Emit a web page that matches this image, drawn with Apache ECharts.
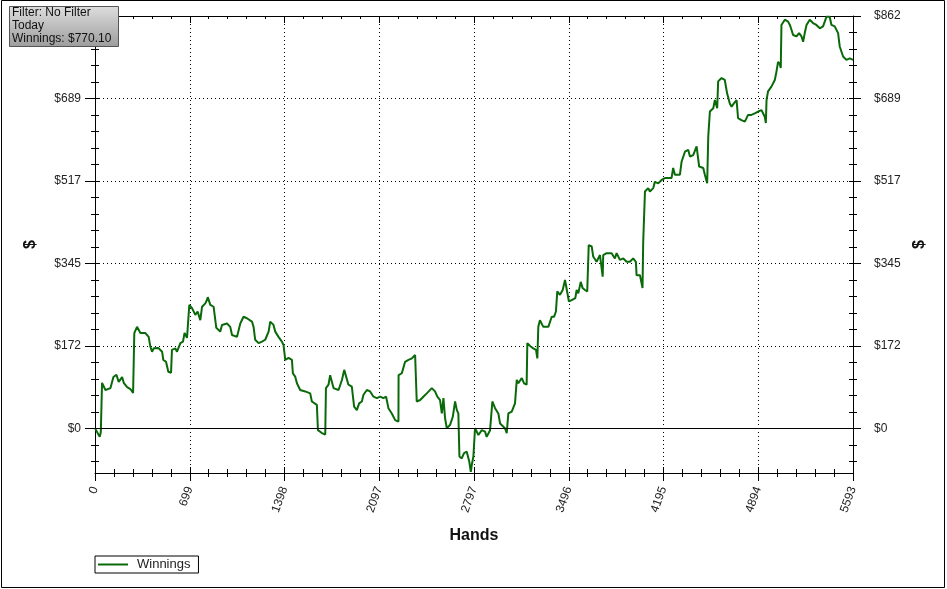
<!DOCTYPE html>
<html><head><meta charset="utf-8">
<script src="https://cdn.jsdelivr.net/npm/echarts@6/dist/echarts.min.js"></script>
<style>html,body{margin:0;padding:0;background:#fff}#c{width:947px;height:589px}</style>
</head><body><div id="c"></div>
<script>
const hands = [
0,3,35,43,52,77,114,136,158,175,200,
212,237,261,281,290,310,335,372,396,408,
421,433,467,495,504,524,541,561,568,593,
605,630,649,661,679,696,716,740,757,777,
790,814,826,832,851,875,895,924,937,974,
986,998,1011,1048,1072,1096,1121,1158,1170,1182,
1207,1232,1256,1281,1293,1317,1330,1354,1379,1391,
1404,1428,1453,1460,1477,1490,1514,1551,1588,1600,
1637,1645,1674,1699,1704,1723,1735,1748,1760,1797,
1822,1839,1851,1870,1895,1912,1932,1949,1969,1981,
2006,2030,2055,2080,2104,2128,2148,2165,2190,2215,
2239,2240,2264,2288,2313,2338,2362,2374,2399,2423,
2448,2485,2509,2526,2546,2559,2571,2583,2596,2620,
2640,2657,2670,2681,2689,2706,2723,2743,2762,2773,
2780,2792,2804,2829,2854,2878,2890,2915,2932,2952,
2976,2989,3025,3038,3050,3075,3099,3112,3124,3149,
3166,3185,3190,3210,3234,3254,3264,3271,3283,3308,
3345,3370,3387,3401,3411,3431,3451,3468,3480,3497,
3517,3544,3554,3566,3584,3598,3615,3632,3643,3665,
3676,3701,3726,3738,3746,3750,3775,3812,3836,3849,
3873,3898,3923,3947,3971,3991,3996,4021,4033,4040,
4045,4058,4082,4094,4119,4131,4156,4181,4205,4229,
4254,4266,4279,4316,4328,4353,4377,4390,4414,4426,
4439,4451,4458,4488,4500,4517,4525,4537,4562,4574,
4591,4598,4623,4647,4664,4684,4697,4714,4734,4745,
4770,4795,4807,4819,4844,4868,4893,4918,4930,4942,
4950,4955,4966,4991,5016,5028,5040,5053,5060,5065,
5090,5114,5127,5139,5151,5176,5195,5213,5225,5237,
5250,5274,5298,5323,5348,5372,5384,5397,5421,5434,
5458,5483,5495,5520,5544,5569,5593
];
const winnings = [
0,-4,-18,-8,95,80,84,107,112,97,107,
95,86,82,74,199,212,199,199,191,171,
160,167,168,160,143,139,118,116,164,167,
160,178,181,199,189,258,251,237,244,226,
254,261,268,274,258,254,210,202,216,219,
223,212,195,191,219,233,230,223,212,185,
178,181,185,202,223,216,202,191,181,174,
143,147,143,115,108,94,80,77,73,56,
49,-4,-10,-13,84,91,111,115,84,80,
101,122,118,91,87,45,38,52,56,70,
80,77,66,63,66,63,66,42,31,17,
14,111,115,139,143,146,153,56,59,66,
73,84,77,66,59,31,63,21,0,7,
24,56,38,31,-59,-63,-52,-49,-70,-91,
-77,-59,0,-14,-4,-7,-18,-4,56,42,
31,10,0,-10,31,35,52,101,94,105,
94,91,178,172,167,164,146,212,226,212,
212,233,233,244,286,279,289,310,314,265,
268,272,289,282,306,293,289,286,383,380,
359,348,362,359,317,362,366,366,355,366,
352,355,348,348,355,348,320,320,317,293,
390,495,502,495,502,515,512,519,523,523,
523,544,530,530,557,578,582,568,571,568,
589,589,547,544,530,512,610,662,669,686,
669,725,732,728,700,679,672,679,686,648,
644,641,644,655,655,658,662,665,658,651,
638,686,704,714,728,745,766,761,753,843,
854,850,843,833,822,819,826,819,808,826,
843,854,847,843,836,840,843,860,860,843,
840,826,798,777,770,773,770.1
];
const xTickLabels = ['0','699','1398','2097','2797','3496','4195','4894','5593'];
const yTickValues = [0,172.34,344.68,517.02,689.36,861.7];
const yTickLabels = ['$0','$172','$345','$517','$689','$862'];
const infoLines = ['Filter: No Filter','Today','Winnings: $770.10'];
const seriesName = 'Winnings';

const X_MAX = 5593, X_INT = X_MAX / 8;
const Y_MIN = -93.5, Y_MAX = 861.7;
const Y_MINOR = 34.468;
const yMinorValues = [];
for (let k = -2; k <= 25; k++) yMinorValues.push(+(k * Y_MINOR).toFixed(3));

const FONT = '"Liberation Sans", Arial, sans-serif';
const BLACK = '#000';
const LINE_COLOR = '#0a6a0a';
const DOT = {type:[1,3], color:'#000', width:1};

const data = hands.map((h, i) => [h, winnings[i]]);
const yFmt = v => { const i = yTickValues.findIndex(t => Math.abs(t - v) < 0.05); return i >= 0 ? yTickLabels[i] : ''; };

function xBase(extra) {
  return Object.assign({
    type:'value', min:0, max:X_MAX, interval:X_INT,
    axisLine:{show:false, onZero:false, lineStyle:{color:BLACK, width:1}},
    axisTick:{show:true, lineStyle:{color:BLACK, width:1}},
    minorTick:{show:true, splitNumber:5, lineStyle:{color:BLACK, width:1}},
    axisLabel:{show:false},
    splitLine:{show:false}, minorSplitLine:{show:false}
  }, extra);
}
function yBase(extra) {
  return Object.assign({
    type:'value', min:Y_MIN, max:Y_MAX,
    axisLine:{show:false, onZero:false, lineStyle:{color:BLACK, width:1}},
    axisLabel:{show:false},
    splitLine:{show:false}
  }, extra);
}

const chart = echarts.init(document.getElementById('c'), null, {renderer:'canvas'});
chart.setOption({
  animation:false,
  backgroundColor:'#fff',
  grid:{left:95, right:94, top:16, bottom:116, outerBoundsMode:'none', containLabel:false},
  xAxis:[
    xBase({position:'bottom',
      axisLine:{show:true, onZero:false, lineStyle:{color:BLACK, width:1}},
      axisTick:{show:true, inside:true, length:6, lineStyle:{color:BLACK}},
      minorTick:{show:true, splitNumber:5, length:4, lineStyle:{color:BLACK}},
      axisLabel:{show:true, rotate:70, margin:14, fontSize:12, color:'#222', fontFamily:FONT,
        formatter: v => xTickLabels[Math.round(v / X_INT)]},
      splitLine:{show:true, lineStyle:DOT},
      name:'Hands', nameLocation:'middle', nameGap:55,
      nameTextStyle:{fontSize:16, fontWeight:'bold', color:'#111', fontFamily:FONT}
    }),
    xBase({position:'bottom',
      axisTick:{show:true, inside:false, length:8, lineStyle:{color:BLACK}},
      minorTick:{show:true, splitNumber:5, length:4, lineStyle:{color:BLACK}}
    }),
    xBase({position:'top',
      axisLine:{show:true, onZero:false, lineStyle:{color:BLACK, width:1}},
      axisTick:{show:true, inside:true, length:7, lineStyle:{color:BLACK}},
      minorTick:{show:true, splitNumber:5, length:3, lineStyle:{color:BLACK}}
    })
  ],
  yAxis:[
    yBase({position:'left',
      axisLine:{show:true, onZero:false, lineStyle:{color:BLACK, width:1}},
      axisTick:{show:true, inside:true, length:4, customValues:yMinorValues, lineStyle:{color:BLACK}}
    }),
    yBase({position:'left',
      axisTick:{show:true, inside:false, length:10, customValues:yTickValues, lineStyle:{color:BLACK}},
      axisLabel:{show:true, customValues:yTickValues, formatter:yFmt, margin:14, fontSize:12, color:'#222', fontFamily:FONT},
      splitLine:{show:true, lineStyle:DOT},
      name:'$', nameLocation:'middle', nameGap:56, nameRotate:90,
      nameTextStyle:{fontSize:16, fontWeight:'bold', color:'#111', fontFamily:FONT}
    }),
    yBase({position:'left',
      axisTick:{show:true, inside:false, length:4, customValues:yMinorValues, lineStyle:{color:BLACK}}
    }),
    yBase({position:'right',
      axisLine:{show:true, onZero:false, lineStyle:{color:BLACK, width:1}},
      axisTick:{show:true, inside:true, length:4, customValues:yMinorValues, lineStyle:{color:BLACK}}
    }),
    yBase({position:'right',
      axisTick:{show:true, inside:false, length:8, customValues:yTickValues, lineStyle:{color:BLACK}},
      axisLabel:{show:true, customValues:yTickValues, formatter:yFmt, margin:21, fontSize:12, color:'#222', fontFamily:FONT},
      name:'$', nameLocation:'middle', nameGap:57, nameRotate:90,
      nameTextStyle:{fontSize:16, fontWeight:'bold', color:'#111', fontFamily:FONT}
    }),
    yBase({position:'right',
      axisTick:{show:true, inside:false, length:4, customValues:yMinorValues, lineStyle:{color:BLACK}}
    })
  ],
  legend:{
    show:true, left:95, top:556, orient:'horizontal',
    borderColor:'#000', borderWidth:1, padding:[2,8,2,3],
    itemWidth:30, itemHeight:2,
    textStyle:{fontSize:13, color:'#222', fontFamily:FONT, padding:[0,0,0,4]},
    data:[{name:seriesName, icon:'rect', itemStyle:{color:LINE_COLOR}}]
  },
  series:[{
    name:seriesName, type:'line', xAxisIndex:0, yAxisIndex:0,
    data:data, symbol:'none', showSymbol:false,
    lineStyle:{color:LINE_COLOR, width:2}, itemStyle:{color:LINE_COLOR},
    markLine:{silent:true, symbol:'none', label:{show:false}, animation:false,
      lineStyle:{color:'#000', width:1, type:'solid'}, data:[{yAxis:0}]},
    z:3
  }],
  graphic:[
    {type:'rect', silent:true, z:100, shape:{x:1.5, y:0.5, width:943, height:587},
      style:{fill:'none', stroke:'#000', lineWidth:1}},
    {type:'rect', silent:true, z:101, shape:{x:9.5, y:6.5, width:109, height:40},
      style:{stroke:'#555', lineWidth:1,
        fill:new echarts.graphic.LinearGradient(0,0,0,1,[{offset:0,color:'#dedede'},{offset:1,color:'#9c9c9c'}])}},
    {type:'text', silent:true, z:102, x:12, y:7, style:{text:infoLines[0], fontSize:12, fontFamily:FONT, fill:'#111', verticalAlign:'top'}},
    {type:'text', silent:true, z:102, x:12, y:20, style:{text:infoLines[1], fontSize:12, fontFamily:FONT, fill:'#111', verticalAlign:'top'}},
    {type:'text', silent:true, z:102, x:12, y:33, style:{text:infoLines[2], fontSize:12, fontFamily:FONT, fill:'#111', verticalAlign:'top'}}
  ]
});
</script>
</body></html>
